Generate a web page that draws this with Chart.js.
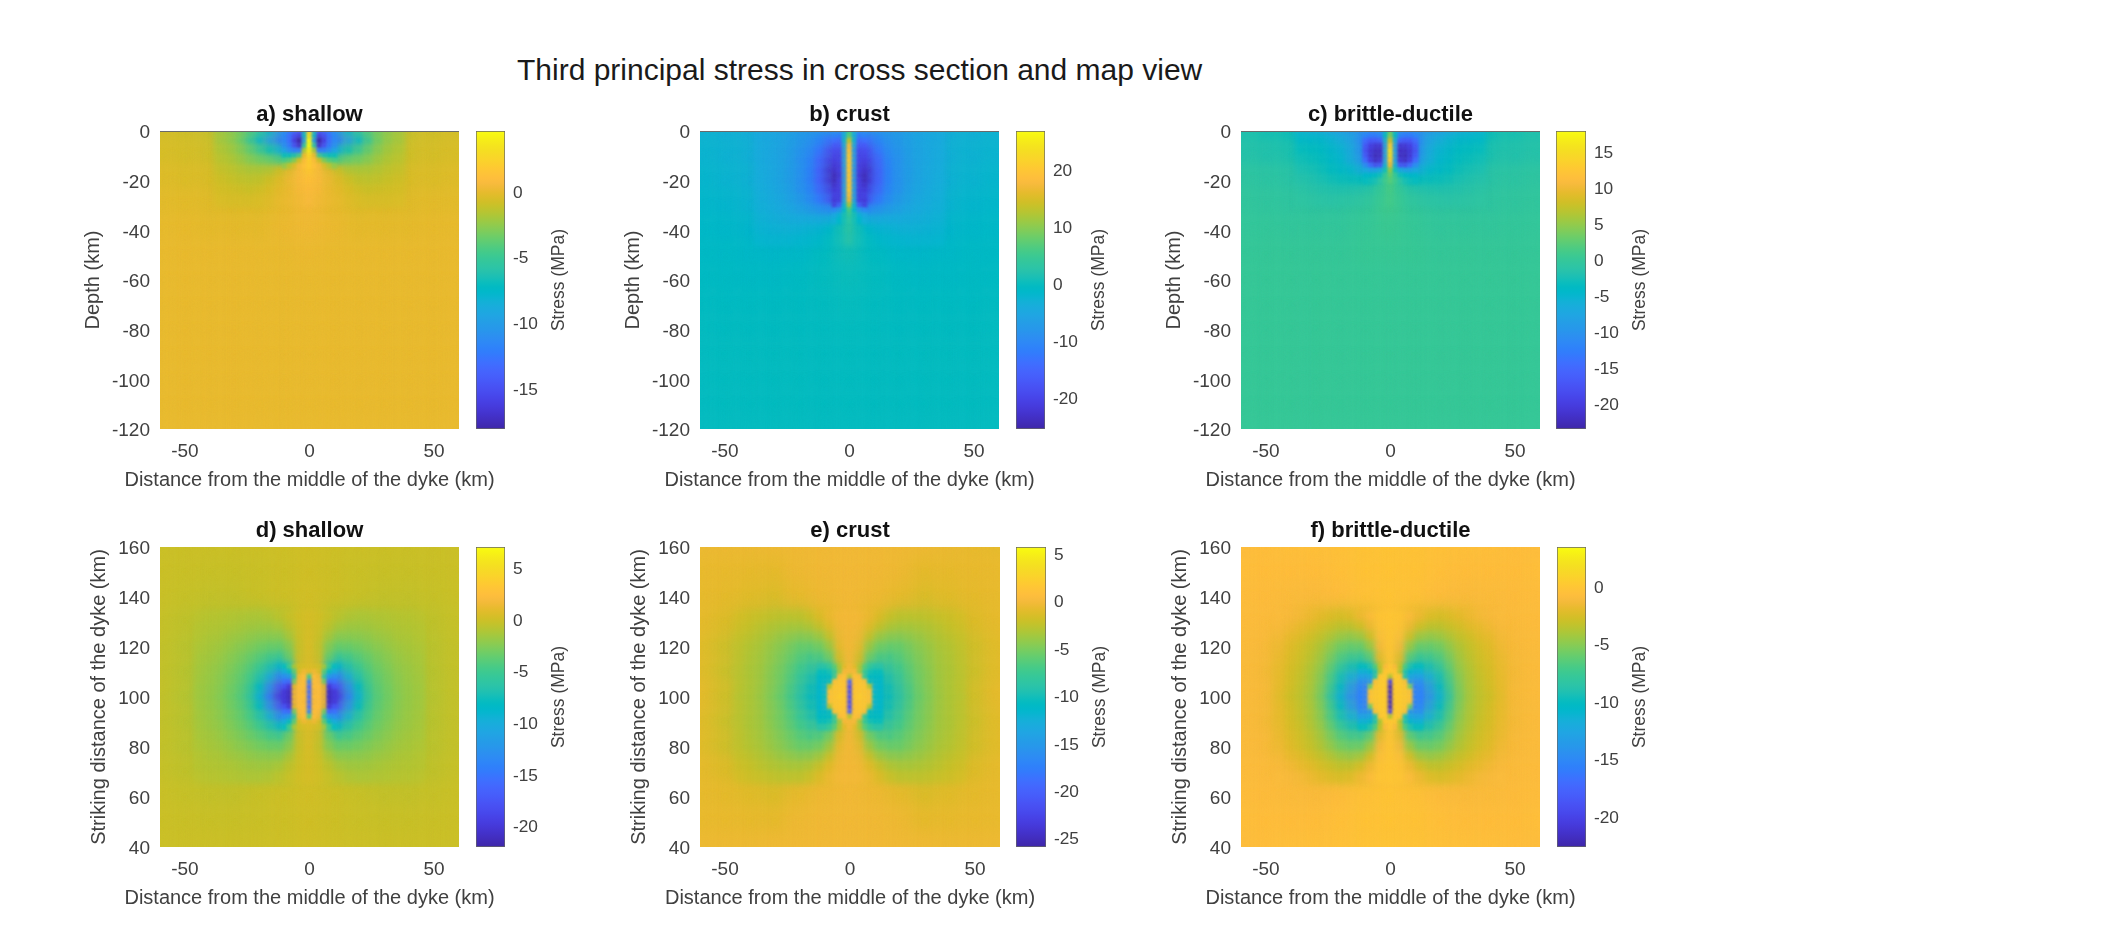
<!DOCTYPE html>
<html>
<head>
<meta charset="utf-8">
<title>Third principal stress</title>
<script src="https://cdn.jsdelivr.net/npm/chart.js@4"></script>
<style>
  html, body { margin: 0; background: #fff; }
  #page { position: relative; width: 2119px; height: 947px; overflow: hidden; }
  #page canvas { position: absolute; filter: blur(0.4px); }
  #suptitle { position: absolute; left: 517px; top: 52px; font: 30px/36px "Liberation Sans", Arial, sans-serif; color: #1a1a1a; white-space: nowrap; }
</style>
</head>
<body>
<div id="page"><div id="suptitle">Third principal stress in cross section and map view</div></div>
<script>
// grid nodes (km)
const coarseX = [-60,-50,-40,-30,-20,-10,0,10,20,30,40,50,60];
const sectionY = [0,-10,-20,-30,-40,-50,-60,-70,-80,-90,-100,-110,-120];
const mapY = [160,150,140,130,120,110,100,90,80,70,60,50,40];
const sectionMidX = [-36,-32,-28,-24,-20,-16,-12,-8,-4,0,4,8,12,16,20,24,28,32,36];
const mapMidX = [-44,-40,-36,-32,-28,-24,-20,-16,-12,-8,-4,0,4,8,12,16,20,24,28,32,36,40,44];
const shortMidY = [0,-4,-8,-12,-16,-20,-24,-28];
const crustMidY = [0,-4,-8,-12,-16,-20,-24,-28,-32,-36,-40,-44];
const mapMidY = [132,128,124,120,116,112,108,104,100,96,92,88,84,80,76,72,68];
const fineX10 = [-10,-8,-6,-4,-2,0,2,4,6,8,10];
const fineX12 = [-12,-10,-8,-6,-4,-2,0,2,4,6,8,10,12];
const fineX6 = [-6,-4,-2,0,2,4,6];
const aFineY = [0,-2,-4,-6,-8,-10,-12,-14];
const bFineY = [0,-2,-4,-6,-8,-10,-12,-14,-16,-18,-20,-22,-24,-26,-28,-30,-32,-34,-36];
const cFineY = [0,-2,-4,-6,-8,-10,-12,-14,-16,-18,-20];
const mapFineY = [112,110,108,106,104,102,100,98,96,94,92,90,88];

// stress (MPa), one row per y node
const aCoarse = [
  [-1,-1.1,-1.4,-2,-4,-9,0,-9,-4,-2,-1.4,-1.1,-1],
  [-0.8,-0.9,-1.1,-1.5,-3,-7,1.5,-7,-3,-1.5,-1.1,-0.9,-0.8],
  [-0.5,-0.6,-0.7,-0.9,-1.2,-0.8,1,-0.8,-1.2,-0.9,-0.7,-0.6,-0.5],
  [-0.3,-0.3,-0.4,-0.5,-0.5,-0.1,0.5,-0.1,-0.5,-0.5,-0.4,-0.3,-0.3],
  [-0.1,-0.1,-0.2,-0.2,-0.2,0.1,0.3,0.1,-0.2,-0.2,-0.2,-0.1,-0.1],
  [0,0,0,0,0,0,0.1,0,0,0,0,0,0],
  [0,0,0,0,0,0,0,0,0,0,0,0,0],
  [0,0,0,0,0,0,0,0,0,0,0,0,0],
  [0,0,0,0,0,0,0,0,0,0,0,0,0],
  [0,0,0,0,0,0,0,0,0,0,0,0,0],
  [0,0,0,0,0,0,0,0,0,0,0,0,0],
  [0,0,0,0,0,0,0,0,0,0,0,0,0],
  [0,0,0,0,0,0,0,0,0,0,0,0,0]
];
const aMid = [
  [-2.3,-2.8,-3.5,-4.5,-6,-8,-10.5,-12,-13.5,3,-13.5,-12,-10.5,-8,-6,-4.5,-3.5,-2.8,-2.3],
  [-2.2,-2.7,-3.6,-5.4,-8,-10,-12,-13.5,-17,4,-17,-13.5,-12,-10,-8,-5.4,-3.6,-2.7,-2.2],
  [-1.9,-2.3,-3,-4,-5.5,-7,-8.5,-11,-13,4,-13,-11,-8.5,-7,-5.5,-4,-3,-2.3,-1.9],
  [-1.6,-1.9,-2.4,-3,-3.5,-3.8,-4.3,-4,-0.8,2,-0.8,-4,-4.3,-3.8,-3.5,-3,-2.4,-1.9,-1.6],
  [-1.3,-1.5,-1.8,-2,-2,-1.8,-1,-0.1,0.8,1.7,0.8,-0.1,-1,-1.8,-2,-2,-1.8,-1.5,-1.3],
  [-1,-1.2,-1.4,-1.5,-1.4,-1,-0.4,0.2,0.7,1.2,0.7,0.2,-0.4,-1,-1.4,-1.5,-1.4,-1.2,-1],
  [-0.8,-0.9,-1,-1.1,-0.9,-0.6,-0.2,0.1,0.5,0.8,0.5,0.1,-0.2,-0.6,-0.9,-1.1,-1,-0.9,-0.8],
  [-0.6,-0.7,-0.7,-0.7,-0.6,-0.4,-0.1,0.1,0.3,0.6,0.3,0.1,-0.1,-0.4,-0.6,-0.7,-0.7,-0.7,-0.6]
];
const aFine = [
  [-11,-12,-13,-14,-8,1.5,-8,-14,-13,-12,-11],
  [-11.5,-13,-15,-16,-8,3,-8,-16,-15,-13,-11.5],
  [-11.5,-13,-16,-18,-10,4.5,-10,-18,-16,-13,-11.5],
  [-11,-12.5,-15,-17,-6,4.5,-6,-17,-15,-12.5,-11],
  [-9.5,-11,-12,-12,-2,3.5,-2,-12,-12,-11,-9.5],
  [-7,-7,-6.5,-5,0,2.5,0,-5,-6.5,-7,-7],
  [-4.5,-4,-3,-1,0.8,2,0.8,-1,-3,-4,-4.5],
  [-2.5,-1.5,-0.5,0.5,1.2,1.8,1.2,0.5,-0.5,-1.5,-2.5]
];

const bCoarse = [
  [-3.5,-4,-4.5,-6,-7.5,-9,0,-9,-7.5,-6,-4.5,-4,-3.5],
  [-3,-3.4,-4,-5.5,-8,-15,12,-15,-8,-5.5,-4,-3.4,-3],
  [-2.5,-3,-3.6,-5,-8,-17,14,-17,-8,-5,-3.6,-3,-2.5],
  [-2,-2.4,-3,-4,-6,-12,6,-12,-6,-4,-3,-2.4,-2],
  [-1.5,-1.8,-2.2,-2.7,-3,-2.5,2,-2.5,-3,-2.7,-2.2,-1.8,-1.5],
  [-1,-1.2,-1.4,-1.6,-1.5,-0.5,1,-0.5,-1.5,-1.6,-1.4,-1.2,-1],
  [-0.8,-0.9,-1,-1,-0.8,-0.2,0.3,-0.2,-0.8,-1,-1,-0.9,-0.8],
  [-0.5,-0.6,-0.6,-0.6,-0.5,-0.3,0,-0.3,-0.5,-0.6,-0.6,-0.6,-0.5],
  [-0.3,-0.4,-0.4,-0.4,-0.4,-0.3,-0.2,-0.3,-0.4,-0.4,-0.4,-0.4,-0.3],
  [-0.3,-0.3,-0.3,-0.3,-0.3,-0.3,-0.3,-0.3,-0.3,-0.3,-0.3,-0.3,-0.3],
  [-0.3,-0.3,-0.3,-0.3,-0.3,-0.3,-0.3,-0.3,-0.3,-0.3,-0.3,-0.3,-0.3],
  [-0.3,-0.3,-0.3,-0.3,-0.3,-0.3,-0.3,-0.3,-0.3,-0.3,-0.3,-0.3,-0.3],
  [-0.3,-0.3,-0.3,-0.3,-0.3,-0.3,-0.3,-0.3,-0.3,-0.3,-0.3,-0.3,-0.3]
];
const bMid = [
  [-4.8,-5.2,-5.7,-6.5,-7.5,-8,-8.5,-9,-8,2,-8,-9,-8.5,-8,-7.5,-6.5,-5.7,-5.2,-4.8],
  [-4.8,-5.2,-5.8,-6.7,-8,-9,-11,-14,-15,10,-15,-14,-11,-9,-8,-6.7,-5.8,-5.2,-4.8],
  [-4.7,-5.2,-5.9,-7,-8.5,-10,-13,-18,-20,16,-20,-18,-13,-10,-8.5,-7,-5.9,-5.2,-4.7],
  [-4.6,-5.2,-6,-7.2,-9,-11,-15,-20,-21,18,-21,-20,-15,-11,-9,-7.2,-6,-5.2,-4.6],
  [-4.5,-5.1,-6,-7.4,-9,-11.5,-16,-22,-22,18,-22,-22,-16,-11.5,-9,-7.4,-6,-5.1,-4.5],
  [-4.3,-5,-5.9,-7.3,-9,-11.5,-16,-22,-22,18,-22,-22,-16,-11.5,-9,-7.3,-5.9,-5,-4.3],
  [-4.1,-4.8,-5.7,-7,-9,-11,-15,-20,-21,17,-21,-20,-15,-11,-9,-7,-5.7,-4.8,-4.1],
  [-3.9,-4.5,-5.3,-6.5,-8,-10,-13,-18,-20,14,-20,-18,-13,-10,-8,-6.5,-5.3,-4.5,-3.9],
  [-3.6,-4.1,-4.7,-5.4,-6.5,-7.5,-8.5,-10,-8,5,-8,-10,-8.5,-7.5,-6.5,-5.4,-4.7,-4.1,-3.6],
  [-3.2,-3.6,-4,-4.4,-4.5,-4.5,-4.5,-4.2,-2,3.5,-2,-4.2,-4.5,-4.5,-4.5,-4.4,-4,-3.6,-3.2],
  [-2.8,-3,-3.2,-3.3,-3.1,-2.8,-2.5,-1.5,0.5,3,0.5,-1.5,-2.5,-2.8,-3.1,-3.3,-3.2,-3,-2.8],
  [-2.3,-2.5,-2.5,-2.4,-2.2,-1.9,-1.4,-0.5,0.7,2.5,0.7,-0.5,-1.4,-1.9,-2.2,-2.4,-2.5,-2.5,-2.3]
];
const bFine = [
  [-9,-9,-5,5,-5,-9,-9],
  [-11,-12,-4,7,-4,-12,-11],
  [-14,-15,-3,14,-3,-15,-14],
  [-17,-17,-5,18,-5,-17,-17],
  [-19,-19,-7,19,-7,-19,-19],
  [-20,-20,-7,20,-7,-20,-20],
  [-21,-20,-7,20,-7,-20,-21],
  [-22,-21,-7,20,-7,-21,-22],
  [-23,-21,-8,20,-8,-21,-23],
  [-24,-22,-8,20,-8,-22,-24],
  [-24,-21,-8,20,-8,-21,-24],
  [-23,-21,-7,20,-7,-21,-23],
  [-22,-21,-7,20,-7,-21,-22],
  [-21,-21,-7,19,-7,-21,-21],
  [-22,-21,-6,17,-6,-21,-22],
  [-21,-17,-3,12,-3,-17,-21],
  [-10,-8,-2,6,-2,-8,-10],
  [-5,-3,1,4,1,-3,-5],
  [-3.5,-1.5,1,3,1,-1.5,-3.5]
];

const cCoarse = [
  [-2.5,-3,-4,-5.5,-8,-10,-1,-10,-8,-5.5,-4,-3,-2.5],
  [-2,-2.2,-2.6,-3.5,-5,-13,8,-13,-5,-3.5,-2.6,-2.2,-2],
  [-1,-1.2,-1.5,-2,-3,-4,1.5,-4,-3,-2,-1.5,-1.2,-1],
  [-0.6,-0.7,-0.9,-1,-1,-0.5,1,-0.5,-1,-1,-0.9,-0.7,-0.6],
  [-0.3,-0.3,-0.4,-0.4,-0.4,0,0.5,0,-0.4,-0.4,-0.4,-0.3,-0.3],
  [-0.1,-0.1,-0.1,-0.1,-0.1,0.1,0.2,0.1,-0.1,-0.1,-0.1,-0.1,-0.1],
  [0,0,0,0,0,0,0,0,0,0,0,0,0],
  [0,0,0,0,0,0,0,0,0,0,0,0,0],
  [0,0,0,0,0,0,0,0,0,0,0,0,0],
  [0,0,0,0,0,0,0,0,0,0,0,0,0],
  [0,0,0,0,0,0,0,0,0,0,0,0,0],
  [0,0,0,0,0,0,0,0,0,0,0,0,0],
  [0,0,0,0,0,0,0,0,0,0,0,0,0]
];
const cMid = [
  [-5.5,-6,-6.5,-7.5,-8.5,-9.5,-10.5,-11,-10,-1,-10,-11,-10.5,-9.5,-8.5,-7.5,-6.5,-6,-5.5],
  [-4.5,-4.7,-4.8,-5.5,-6.5,-8,-11,-16,-17,8,-17,-16,-11,-8,-6.5,-5.5,-4.8,-4.7,-4.5],
  [-3.6,-3.8,-4.1,-4.8,-5.5,-7,-10,-18,-20,12,-20,-18,-10,-7,-5.5,-4.8,-4.1,-3.8,-3.6],
  [-2.9,-3.2,-3.6,-4.4,-5,-6.5,-9,-17,-20,12,-20,-17,-9,-6.5,-5,-4.4,-3.6,-3.2,-2.9],
  [-2.3,-2.6,-3.1,-3.9,-4.5,-5,-6.5,-8,-7,3,-7,-8,-6.5,-5,-4.5,-3.9,-3.1,-2.6,-2.3],
  [-1.7,-2,-2.4,-2.9,-3.2,-3.4,-3.5,-3.5,-1.5,1.5,-1.5,-3.5,-3.5,-3.4,-3.2,-2.9,-2.4,-2,-1.7],
  [-1.2,-1.4,-1.7,-1.9,-2,-1.9,-1.6,-1.2,-0.2,1.2,-0.2,-1.2,-1.6,-1.9,-2,-1.9,-1.7,-1.4,-1.2],
  [-0.9,-1,-1.2,-1.3,-1.2,-1.1,-0.8,-0.5,0.2,1,0.2,-0.5,-0.8,-1.1,-1.2,-1.3,-1.2,-1,-0.9]
];
const cFine = [
  [-10,-10.5,-10.5,-10,-5,3,-5,-10,-10.5,-10.5,-10],
  [-12,-13,-13,-12,-4,4,-4,-12,-13,-13,-12],
  [-15,-17,-17,-16,-6,8,-6,-16,-17,-17,-15],
  [-17,-20,-21,-21,-8,13,-8,-21,-21,-20,-17],
  [-18,-21,-22,-22,-8,15,-8,-22,-22,-21,-18],
  [-17,-21,-22.5,-22,-8,15,-8,-22,-22.5,-21,-17],
  [-15,-20,-22,-21,-8,13,-8,-21,-22,-20,-15],
  [-11,-15,-18,-17,-6,10,-6,-17,-18,-15,-11],
  [-7,-8,-8,-7,-3,5,-3,-7,-8,-8,-7],
  [-4.5,-4.5,-4,-3,0,3,0,-3,-4,-4.5,-4.5],
  [-3.5,-3,-2.5,-1,0.8,2,0.8,-1,-2.5,-3,-3.5]
];

const dCoarse = [
  [-0.15,-0.15,-0.15,-0.15,-0.1,0,0.1,0,-0.1,-0.15,-0.15,-0.15,-0.15],
  [-0.15,-0.2,-0.3,-0.3,-0.2,-0.05,0.1,-0.05,-0.2,-0.3,-0.3,-0.2,-0.15],
  [-0.25,-0.35,-0.5,-0.5,-0.3,-0.05,0.2,-0.05,-0.3,-0.5,-0.5,-0.35,-0.25],
  [-0.4,-0.7,-1,-1.2,-1.4,-0.9,0.3,-0.9,-1.4,-1.2,-1,-0.7,-0.4],
  [-0.5,-0.9,-1.4,-2.3,-2.9,-3.5,0.4,-3.5,-2.9,-2.3,-1.4,-0.9,-0.5],
  [-0.5,-1,-1.8,-3,-5.5,-10,0.5,-10,-5.5,-3,-1.8,-1,-0.5],
  [-0.5,-1.1,-2,-3.3,-8,-20,0.5,-20,-8,-3.3,-2,-1.1,-0.5],
  [-0.5,-1,-1.8,-3,-5.5,-10,0.5,-10,-5.5,-3,-1.8,-1,-0.5],
  [-0.5,-0.9,-1.4,-2.3,-2.9,-3.5,0.4,-3.5,-2.9,-2.3,-1.4,-0.9,-0.5],
  [-0.4,-0.7,-1,-1.2,-1.4,-0.9,0.3,-0.9,-1.4,-1.2,-1,-0.7,-0.4],
  [-0.25,-0.35,-0.5,-0.5,-0.3,-0.05,0.2,-0.05,-0.3,-0.5,-0.5,-0.35,-0.25],
  [-0.15,-0.2,-0.3,-0.3,-0.2,-0.05,0.1,-0.05,-0.2,-0.3,-0.3,-0.2,-0.15],
  [-0.15,-0.15,-0.15,-0.15,-0.1,0,0.1,0,-0.1,-0.15,-0.15,-0.15,-0.15]
];
const dMid = [
  [-0.8,-0.9,-1,-1.1,-1.2,-1.3,-1.3,-1.2,-0.8,-0.3,0.1,0.3,0.1,-0.3,-0.8,-1.2,-1.3,-1.3,-1.2,-1.1,-1,-0.9,-0.8],
  [-1,-1.1,-1.2,-1.3,-1.5,-1.7,-1.8,-1.8,-1.5,-0.7,0,0.3,0,-0.7,-1.5,-1.8,-1.8,-1.7,-1.5,-1.3,-1.2,-1.1,-1],
  [-1.1,-1.3,-1.4,-1.7,-1.9,-2.2,-2.4,-2.5,-2.4,-1.4,-0.1,0.4,-0.1,-1.4,-2.4,-2.5,-2.4,-2.2,-1.9,-1.7,-1.4,-1.3,-1.1],
  [-1.3,-1.5,-1.7,-2,-2.4,-2.8,-3.2,-3.6,-3.6,-2.5,-0.3,0.5,-0.3,-2.5,-3.6,-3.6,-3.2,-2.8,-2.4,-2,-1.7,-1.5,-1.3],
  [-1.5,-1.7,-2,-2.4,-2.9,-3.5,-4.2,-5,-5.5,-3.5,-0.1,0.5,-0.1,-3.5,-5.5,-5,-4.2,-3.5,-2.9,-2.4,-2,-1.7,-1.5],
  [-1.6,-1.9,-2.2,-2.7,-3.3,-4.1,-5.3,-7,-9,-6,0.3,0.6,0.3,-6,-9,-7,-5.3,-4.1,-3.3,-2.7,-2.2,-1.9,-1.6],
  [-1.7,-2,-2.4,-3,-3.7,-4.8,-6.8,-10,-13.5,-13,2,2,2,-13,-13.5,-10,-6.8,-4.8,-3.7,-3,-2.4,-2,-1.7],
  [-1.8,-2.1,-2.5,-3.2,-4,-5.4,-8.5,-13,-17,-19.5,2,2,2,-19.5,-17,-13,-8.5,-5.4,-4,-3.2,-2.5,-2.1,-1.8],
  [-1.8,-2.1,-2.6,-3.3,-4.2,-5.8,-9.5,-14.5,-19,-21,2,2,2,-21,-19,-14.5,-9.5,-5.8,-4.2,-3.3,-2.6,-2.1,-1.8],
  [-1.8,-2.1,-2.5,-3.2,-4,-5.4,-8.5,-13,-17,-19.5,2,2,2,-19.5,-17,-13,-8.5,-5.4,-4,-3.2,-2.5,-2.1,-1.8],
  [-1.7,-2,-2.4,-3,-3.7,-4.8,-6.8,-10,-13.5,-13,2,2,2,-13,-13.5,-10,-6.8,-4.8,-3.7,-3,-2.4,-2,-1.7],
  [-1.6,-1.9,-2.2,-2.7,-3.3,-4.1,-5.3,-7,-9,-6,0.3,0.6,0.3,-6,-9,-7,-5.3,-4.1,-3.3,-2.7,-2.2,-1.9,-1.6],
  [-1.5,-1.7,-2,-2.4,-2.9,-3.5,-4.2,-5,-5.5,-3.5,-0.1,0.5,-0.1,-3.5,-5.5,-5,-4.2,-3.5,-2.9,-2.4,-2,-1.7,-1.5],
  [-1.3,-1.5,-1.7,-2,-2.4,-2.8,-3.2,-3.6,-3.6,-2.5,-0.3,0.5,-0.3,-2.5,-3.6,-3.6,-3.2,-2.8,-2.4,-2,-1.7,-1.5,-1.3],
  [-1.1,-1.3,-1.4,-1.7,-1.9,-2.2,-2.4,-2.5,-2.4,-1.4,-0.1,0.4,-0.1,-1.4,-2.4,-2.5,-2.4,-2.2,-1.9,-1.7,-1.4,-1.3,-1.1],
  [-1,-1.1,-1.2,-1.3,-1.5,-1.7,-1.8,-1.8,-1.5,-0.7,0,0.3,0,-0.7,-1.5,-1.8,-1.8,-1.7,-1.5,-1.3,-1.2,-1.1,-1],
  [-0.8,-0.9,-1,-1.1,-1.2,-1.3,-1.3,-1.2,-0.8,-0.3,0.1,0.3,0.1,-0.3,-0.8,-1.2,-1.3,-1.3,-1.2,-1.1,-1,-0.9,-0.8]
];
const dFine = [
  [-8,-5,-1.5,0,0.3,0.5,0.3,0,-1.5,-5,-8],
  [-10,-8,-4,0.5,1.5,1,1.5,0.5,-4,-8,-10],
  [-13,-12,-6,1.5,2.5,-5,2.5,1.5,-6,-12,-13],
  [-15.5,-16,-3,2,2.5,-14,2.5,2,-3,-16,-15.5],
  [-18,-20,1,2.5,2.5,-16,2.5,2.5,1,-20,-18],
  [-20,-21,1.5,2.5,2,-16,2,2.5,1.5,-21,-20],
  [-20,-21,1.5,2.5,2.5,-16,2.5,2.5,1.5,-21,-20],
  [-20,-21,1.5,2.5,2,-16,2,2.5,1.5,-21,-20],
  [-18,-20,1,2.5,2.5,-16,2.5,2.5,1,-20,-18],
  [-15.5,-16,-3,2,2.5,-14,2.5,2,-3,-16,-15.5],
  [-13,-12,-6,1.5,2.5,-5,2.5,1.5,-6,-12,-13],
  [-10,-8,-4,0.5,1.5,1,1.5,0.5,-4,-8,-10],
  [-8,-5,-1.5,0,0.3,0.5,0.3,0,-1.5,-5,-8]
];

const eCoarse = [
  [-0.5,-0.5,-0.5,-0.4,-0.3,-0.2,-0.1,-0.2,-0.3,-0.4,-0.6,-0.8,-1],
  [-0.8,-0.8,-0.9,-1,-0.4,-0.2,-0.1,-0.2,-0.4,-1,-0.9,-0.8,-0.8],
  [-0.9,-1,-1.3,-1.6,-0.9,-0.4,-0.1,-0.4,-0.9,-1.6,-1.3,-1,-0.9],
  [-1,-1.5,-2.3,-3,-2.9,-1.1,-0.1,-1.1,-2.9,-3,-2.3,-1.5,-1],
  [-1.3,-2.2,-3.6,-5,-6,-5.5,-0.1,-5.5,-6,-5,-3.6,-2.2,-1.3],
  [-1.3,-2.4,-3.8,-5.3,-7.5,-9,0,-9,-7.5,-5.3,-3.8,-2.4,-1.3],
  [-1,-2.2,-3.4,-5.2,-9,-11.5,0,-11.5,-9,-5.2,-3.4,-2.2,-1],
  [-1.3,-2.4,-3.8,-5.3,-7.5,-9,0,-9,-7.5,-5.3,-3.8,-2.4,-1.3],
  [-1.3,-2.2,-3.6,-5,-6,-5.5,-0.1,-5.5,-6,-5,-3.6,-2.2,-1.3],
  [-1,-1.5,-2.3,-3,-2.9,-1.1,-0.1,-1.1,-2.9,-3,-2.3,-1.5,-1],
  [-0.9,-1,-1.3,-1.6,-0.9,-0.4,-0.1,-0.4,-0.9,-1.6,-1.3,-1,-0.9],
  [-0.8,-0.8,-0.9,-1,-0.4,-0.2,-0.1,-0.2,-0.4,-1,-0.9,-0.8,-0.8],
  [-0.5,-0.5,-0.5,-0.4,-0.3,-0.2,-0.1,-0.2,-0.3,-0.4,-0.5,-0.5,-0.5]
];
const eMid = [
  [-1.8,-2.1,-2.3,-2.5,-2.7,-2.8,-2.7,-2.3,-1.5,-0.6,-0.1,-0.1,-0.1,-0.6,-1.5,-2.3,-2.7,-2.8,-2.7,-2.5,-2.3,-2.1,-1.8],
  [-2.1,-2.4,-2.8,-3.1,-3.4,-3.6,-3.6,-3.3,-2.5,-1.2,-0.2,-0.1,-0.2,-1.2,-2.5,-3.3,-3.6,-3.6,-3.4,-3.1,-2.8,-2.4,-2.1],
  [-2.4,-2.7,-3.1,-3.5,-4,-4.4,-4.7,-4.6,-3.9,-2.2,-0.4,-0.1,-0.4,-2.2,-3.9,-4.6,-4.7,-4.4,-4,-3.5,-3.1,-2.7,-2.4],
  [-2.6,-3,-3.4,-3.9,-4.5,-5.2,-5.8,-6,-5.5,-3.8,-0.8,-0.1,-0.8,-3.8,-5.5,-6,-5.8,-5.2,-4.5,-3.9,-3.4,-3,-2.6],
  [-2.7,-3.2,-3.6,-4.2,-4.9,-5.7,-6.6,-7.3,-7,-5.5,-1.6,-0.1,-1.6,-5.5,-7,-7.3,-6.6,-5.7,-4.9,-4.2,-3.6,-3.2,-2.7],
  [-2.8,-3.3,-3.7,-4.4,-5.2,-6.2,-7.4,-8.6,-9,-8,-2.5,-0.1,-2.5,-8,-9,-8.6,-7.4,-6.2,-5.2,-4.4,-3.7,-3.3,-2.8],
  [-2.9,-3.3,-3.8,-4.6,-5.4,-6.6,-8.2,-9.8,-10.8,-10,0.8,0,0.8,-10,-10.8,-9.8,-8.2,-6.6,-5.4,-4.6,-3.8,-3.3,-2.9],
  [-2.9,-3.4,-3.9,-4.7,-5.6,-7,-8.8,-10.5,-11.3,1,1.2,0.5,1.2,1,-11.3,-10.5,-8.8,-7,-5.6,-4.7,-3.9,-3.4,-2.9],
  [-3,-3.4,-4,-4.8,-5.8,-7.2,-9,-10.8,-11.5,1,1.2,0.5,1.2,1,-11.5,-10.8,-9,-7.2,-5.8,-4.8,-4,-3.4,-3],
  [-2.9,-3.4,-3.9,-4.7,-5.6,-7,-8.8,-10.5,-11.3,1,1.2,0.5,1.2,1,-11.3,-10.5,-8.8,-7,-5.6,-4.7,-3.9,-3.4,-2.9],
  [-2.9,-3.3,-3.8,-4.6,-5.4,-6.6,-8.2,-9.8,-10.8,-10,0.8,0,0.8,-10,-10.8,-9.8,-8.2,-6.6,-5.4,-4.6,-3.8,-3.3,-2.9],
  [-2.8,-3.3,-3.7,-4.4,-5.2,-6.2,-7.4,-8.6,-9,-8,-2.5,-0.1,-2.5,-8,-9,-8.6,-7.4,-6.2,-5.2,-4.4,-3.7,-3.3,-2.8],
  [-2.7,-3.2,-3.6,-4.2,-4.9,-5.7,-6.6,-7.3,-7,-5.5,-1.6,-0.1,-1.6,-5.5,-7,-7.3,-6.6,-5.7,-4.9,-4.2,-3.6,-3.2,-2.7],
  [-2.6,-3,-3.4,-3.9,-4.5,-5.2,-5.8,-6,-5.5,-3.8,-0.8,-0.1,-0.8,-3.8,-5.5,-6,-5.8,-5.2,-4.5,-3.9,-3.4,-3,-2.6],
  [-2.4,-2.7,-3.1,-3.5,-4,-4.4,-4.7,-4.6,-3.9,-2.2,-0.4,-0.1,-0.4,-2.2,-3.9,-4.6,-4.7,-4.4,-4,-3.5,-3.1,-2.7,-2.4],
  [-2.1,-2.4,-2.8,-3.1,-3.4,-3.6,-3.6,-3.3,-2.5,-1.2,-0.2,-0.1,-0.2,-1.2,-2.5,-3.3,-3.6,-3.6,-3.4,-3.1,-2.8,-2.4,-2.1],
  [-1.8,-2.1,-2.3,-2.5,-2.7,-2.8,-2.7,-2.3,-1.5,-0.6,-0.1,-0.1,-0.1,-0.6,-1.5,-2.3,-2.7,-2.8,-2.7,-2.5,-2.3,-2.1,-1.8]
];
const eFine = [
  [-9,-9,-8,-6.5,-3.5,-1,-0.1,-1,-3.5,-6.5,-8,-9,-9],
  [-10.5,-10.5,-10,-8,-4,0,0,0,-4,-8,-10,-10.5,-10.5],
  [-11,-11,-11,-8,0.5,1,-3,1,0.5,-8,-11,-11,-11],
  [-11.5,-11.5,-11,1,1.5,1,-20,1,1.5,1,-11,-11.5,-11.5],
  [-11.5,-12,-3,1.5,1.5,1.2,-22,1.2,1.5,1.5,-3,-12,-11.5],
  [-11.5,-12,1,1.5,1.5,1.5,-22,1.5,1.5,1.5,1,-12,-11.5],
  [-11.5,-11,1,1.5,2,1.5,-22,1.5,2,1.5,1,-11,-11.5],
  [-11.5,-12,1,1.5,1.5,1.5,-22,1.5,1.5,1.5,1,-12,-11.5],
  [-11.5,-12,-3,1.5,1.5,1.2,-22,1.2,1.5,1.5,-3,-12,-11.5],
  [-11.5,-11.5,-11,1,1.5,1,-20,1,1.5,1,-11,-11.5,-11.5],
  [-11,-11,-11,-8,0.5,1,-3,1,0.5,-8,-11,-11,-11],
  [-10.5,-10.5,-10,-8,-4,0,0,0,-4,-8,-10,-10.5,-10.5],
  [-9,-9,-8,-6.5,-3.5,-1,-0.1,-1,-3.5,-6.5,-8,-9,-9]
];

const fCoarse = [
  [-0.8,-0.7,-0.6,-0.5,-0.4,-0.2,-0.1,-0.2,-0.4,-0.5,-0.6,-0.7,-0.8],
  [-0.6,-0.7,-0.7,-0.7,-0.5,-0.2,-0.1,-0.2,-0.5,-0.7,-0.7,-0.7,-0.6],
  [-0.8,-0.9,-1,-1.1,-0.8,-0.3,-0.1,-0.3,-0.8,-1.1,-1,-0.9,-0.8],
  [-0.9,-1,-1.2,-2.2,-3,-2.2,-0.1,-2.2,-3,-2.2,-1.2,-1,-0.9],
  [-1,-1.2,-2.5,-3.9,-5.9,-6.1,-0.2,-6.1,-5.9,-3.9,-2.5,-1.2,-1],
  [-1,-1.4,-2.8,-4.5,-9,-10.5,-0.2,-10.5,-9,-4.5,-2.8,-1.4,-1],
  [-1,-1.3,-3,-4.9,-11.3,-15.5,-0.2,-15.5,-11.3,-4.9,-3,-1.3,-1],
  [-1,-1.4,-2.8,-4.5,-9,-10.5,-0.2,-10.5,-9,-4.5,-2.8,-1.4,-1],
  [-1,-1.2,-2.5,-3.9,-5.9,-6.1,-0.2,-6.1,-5.9,-3.9,-2.5,-1.2,-1],
  [-0.9,-1,-1.2,-2.2,-3,-2.2,-0.1,-2.2,-3,-2.2,-1.2,-1,-0.9],
  [-0.8,-0.9,-1,-1.1,-0.8,-0.3,-0.1,-0.3,-0.8,-1.1,-1,-0.9,-0.8],
  [-0.6,-0.7,-0.7,-0.7,-0.5,-0.2,-0.1,-0.2,-0.5,-0.7,-0.7,-0.7,-0.6],
  [-0.8,-0.7,-0.6,-0.5,-0.4,-0.2,-0.1,-0.2,-0.4,-0.5,-0.6,-0.7,-0.8]
];
const fMid = [
  [-1,-1.2,-1.4,-1.7,-2.1,-2.4,-2.6,-2.4,-1.7,-0.8,-0.2,-0.1,-0.2,-0.8,-1.7,-2.4,-2.6,-2.4,-2.1,-1.7,-1.4,-1.2,-1],
  [-1.2,-1.5,-1.9,-2.2,-2.7,-3.1,-3.5,-3.5,-2.9,-1.6,-0.3,-0.1,-0.3,-1.6,-2.9,-3.5,-3.5,-3.1,-2.7,-2.2,-1.9,-1.5,-1.2],
  [-1.4,-1.9,-2.3,-2.8,-3.3,-3.9,-4.5,-4.8,-4.4,-2.8,-0.6,-0.1,-0.6,-2.8,-4.4,-4.8,-4.5,-3.9,-3.3,-2.8,-2.3,-1.9,-1.4],
  [-1.6,-2.2,-2.7,-3.2,-3.9,-4.8,-5.7,-6.2,-6.1,-4.5,-1.2,-0.1,-1.2,-4.5,-6.1,-6.2,-5.7,-4.8,-3.9,-3.2,-2.7,-2.2,-1.6],
  [-1.8,-2.4,-2.9,-3.5,-4.3,-5.5,-6.8,-7.6,-7.8,-6.5,-2,-0.1,-2,-6.5,-7.8,-7.6,-6.8,-5.5,-4.3,-3.5,-2.9,-2.4,-1.8],
  [-1.9,-2.6,-3.1,-3.8,-4.7,-6.2,-8,-9.5,-10,-9,-3,-0.1,-3,-9,-10,-9.5,-8,-6.2,-4.7,-3.8,-3.1,-2.6,-1.9],
  [-2,-2.7,-3.3,-4,-5.1,-7,-9.5,-11.8,-12.6,-12,0,0,0,-12,-12.6,-11.8,-9.5,-7,-5.1,-4,-3.3,-2.7,-2],
  [-2.1,-2.8,-3.4,-4.1,-5.4,-7.6,-10.5,-13.4,-15,-0.3,0,0.3,0,-0.3,-15,-13.4,-10.5,-7.6,-5.4,-4.1,-3.4,-2.8,-2.1],
  [-2.2,-3,-3.5,-4.2,-5.6,-8.2,-11.3,-14.3,-15.5,-0.2,0,0.3,0,-0.2,-15.5,-14.3,-11.3,-8.2,-5.6,-4.2,-3.5,-3,-2.2],
  [-2.1,-2.8,-3.4,-4.1,-5.4,-7.6,-10.5,-13.4,-15,-0.3,0,0.3,0,-0.3,-15,-13.4,-10.5,-7.6,-5.4,-4.1,-3.4,-2.8,-2.1],
  [-2,-2.7,-3.3,-4,-5.1,-7,-9.5,-11.8,-12.6,-12,0,0,0,-12,-12.6,-11.8,-9.5,-7,-5.1,-4,-3.3,-2.7,-2],
  [-1.9,-2.6,-3.1,-3.8,-4.7,-6.2,-8,-9.5,-10,-9,-3,-0.1,-3,-9,-10,-9.5,-8,-6.2,-4.7,-3.8,-3.1,-2.6,-1.9],
  [-1.8,-2.4,-2.9,-3.5,-4.3,-5.5,-6.8,-7.6,-7.8,-6.5,-2,-0.1,-2,-6.5,-7.8,-7.6,-6.8,-5.5,-4.3,-3.5,-2.9,-2.4,-1.8],
  [-1.6,-2.2,-2.7,-3.2,-3.9,-4.8,-5.7,-6.2,-6.1,-4.5,-1.2,-0.1,-1.2,-4.5,-6.1,-6.2,-5.7,-4.8,-3.9,-3.2,-2.7,-2.2,-1.6],
  [-1.4,-1.9,-2.3,-2.8,-3.3,-3.9,-4.5,-4.8,-4.4,-2.8,-0.6,-0.1,-0.6,-2.8,-4.4,-4.8,-4.5,-3.9,-3.3,-2.8,-2.3,-1.9,-1.4],
  [-1.2,-1.5,-1.9,-2.2,-2.7,-3.1,-3.5,-3.5,-2.9,-1.6,-0.3,-0.1,-0.3,-1.6,-2.9,-3.5,-3.5,-3.1,-2.7,-2.2,-1.9,-1.5,-1.2],
  [-1,-1.2,-1.4,-1.7,-2.1,-2.4,-2.6,-2.4,-1.7,-0.8,-0.2,-0.1,-0.2,-0.8,-1.7,-2.4,-2.6,-2.4,-2.1,-1.7,-1.4,-1.2,-1]
];
const fFine = [
  [-10,-10,-9,-7,-3.5,-1,-0.1,-1,-3.5,-7,-9,-10,-10],
  [-11.5,-11.5,-11,-9,-4,0,0,0,-4,-9,-11,-11.5,-11.5],
  [-13,-13,-12.5,-9,0,0.2,-4,0.2,0,-9,-12.5,-13,-13],
  [-14.5,-14.5,-14,-0.2,0.2,0.3,-20,0.3,0.2,-0.2,-14,-14.5,-14.5],
  [-15,-15.5,-6,0,0.3,0.3,-22,0.3,0.3,0,-6,-15.5,-15],
  [-15.5,-15.5,-0.3,0.2,0.3,0.3,-22,0.3,0.3,0.2,-0.3,-15.5,-15.5],
  [-15.5,-15.5,-0.2,0.2,0.3,0.3,-22,0.3,0.3,0.2,-0.2,-15.5,-15.5],
  [-15.5,-15.5,-0.3,0.2,0.3,0.3,-22,0.3,0.3,0.2,-0.3,-15.5,-15.5],
  [-15,-15.5,-6,0,0.3,0.3,-22,0.3,0.3,0,-6,-15.5,-15],
  [-14.5,-14.5,-14,-0.2,0.2,0.3,-20,0.3,0.2,-0.2,-14,-14.5,-14.5],
  [-13,-13,-12.5,-9,0,0.2,-4,0.2,0,-9,-12.5,-13,-13],
  [-11.5,-11.5,-11,-9,-4,0,0,0,-4,-9,-11,-11.5,-11.5],
  [-10,-10,-9,-7,-3.5,-1,-0.1,-1,-3.5,-7,-9,-10,-10]
];

// tick labels
const xTicks = [-50, 0, 50];
const sectionYTicks = [0,-20,-40,-60,-80,-100,-120];
const mapYTicks = [160,140,120,100,80,60,40];
const aBarTicks = [0,-5,-10,-15];
const bBarTicks = [20,10,0,-10,-20];
const cBarTicks = [15,10,5,0,-5,-10,-15,-20];
const dBarTicks = [5,0,-5,-10,-15,-20];
const eBarTicks = [5,0,-5,-10,-15,-20,-25];
const fBarTicks = [0,-5,-10,-15,-20];

// colour limits of each panel
const aRange = [-18.1, 4.56];
const bRange = [-25.5, 26.6];
const cRange = [-23.6, 17.8];
const dRange = [-22.1, 7];
const eRange = [-26, 5.67];
const fRange = [-22.7, 3.4];

// parula
const parula = [[.2422,.1504,.6603],[.2504,.165,.7076],[.2578,.1818,.7511],[.2647,.1978,.7952],[.2706,.2147,.8364],[.2751,.2342,.871],[.2783,.2559,.8991],[.2803,.2782,.9221],[.2813,.3006,.9414],[.281,.3228,.9579],[.2795,.3447,.9717],[.276,.3667,.9829],[.2699,.3892,.9906],[.2602,.4123,.9952],[.244,.4358,.9988],[.2206,.4603,.9973],[.1963,.4847,.9892],[.1834,.5074,.9798],[.1786,.5289,.9682],[.1764,.5499,.952],[.1687,.5703,.9359],[.154,.5902,.9218],[.146,.6091,.9079],[.138,.6276,.8973],[.1248,.6459,.8883],[.1113,.6635,.8763],[.0952,.6798,.8598],[.0689,.6948,.8394],[.0297,.7082,.8163],[.0036,.7203,.7917],[.0067,.7312,.766],[.0433,.7411,.7394],[.0964,.75,.712],[.1408,.7584,.6842],[.1717,.767,.6554],[.1938,.7758,.6251],[.2161,.7843,.5923],[.247,.7918,.5567],[.2906,.7973,.5188],[.3406,.8008,.4789],[.3909,.8029,.4354],[.4456,.8024,.3909],[.5044,.7993,.348],[.5616,.7942,.3045],[.6174,.7876,.2612],[.672,.7793,.2227],[.7242,.7698,.191],[.7738,.7598,.1646],[.8203,.7498,.1535],[.8634,.7406,.1596],[.9035,.733,.1774],[.9393,.7288,.21],[.9728,.7316,.2394],[.9956,.7434,.2371],[.997,.7659,.2199],[.9952,.7861,.199],[.9892,.8085,.1816],[.9786,.8303,.1658],[.9676,.8516,.1491],[.961,.8741,.1311],[.9597,.8988,.1149],[.9628,.9256,.097],[.9691,.9555,.0759],[.9769,.9839,.0805]];

function parulaAt(t) {
  const p = Math.min(1, Math.max(0, t)) * (parula.length - 1);
  const i = Math.min(parula.length - 2, Math.floor(p));
  const f = p - i;
  const c = [0, 1, 2].map(k => Math.round(255 * (parula[i][k] * (1 - f) + parula[i + 1][k] * f)));
  return `rgb(${c[0]},${c[1]},${c[2]})`;
}

const fontFamily = '"Liberation Sans", Arial, sans-serif';
const textColor = '#404040';
const page = document.getElementById('page');

function addCanvas(left, top, width, height) {
  const c = document.createElement('canvas');
  c.width = width; c.height = height;
  c.style.left = left + 'px'; c.style.top = top + 'px';
  c.style.width = width + 'px'; c.style.height = height + 'px';
  page.appendChild(c);
  return c;
}

function heatLayer(xs, ys, rows, range, step, blur, order) {
  const pts = [];
  ys.forEach((y, r) => xs.forEach((x, c) => pts.push({ x, y, v: rows[r][c] })));
  return {
    data: pts, order, blur, clip: 0,
    pointStyle: 'rect',
    pointBorderWidth: 0,
    pointRadius: ctx => {
      const s = ctx.chart.scales.x;
      return (Math.abs(s.getPixelForValue(step) - s.getPixelForValue(0)) + 0.5) / Math.SQRT2;
    },
    pointBackgroundColor: ctx => ctx.raw ? parulaAt((ctx.raw.v - range[0]) / (range[1] - range[0])) : '#000'
  };
}

// soft edges between grid cells, a base colour under the far field, x label wider than the axis
const softCells = {
  id: 'softCells',
  beforeDatasetsDraw(chart) {
    const a = chart.chartArea, ds = chart.data.datasets[chart.data.datasets.length - 1];
    chart.ctx.save();
    chart.ctx.fillStyle = ds.pointBackgroundColor({ raw: ds.data[ds.data.length - 1] });
    chart.ctx.fillRect(a.left, a.top, a.right - a.left, a.bottom - a.top);
    chart.ctx.restore();
  },
  beforeDatasetDraw(chart, args) { chart.ctx.filter = `blur(${chart.data.datasets[args.index].blur}px)`; },
  afterDatasetDraw(chart) { chart.ctx.filter = 'none'; },
  afterDraw(chart) {
    const ctx = chart.ctx, a = chart.chartArea;
    ctx.save();
    ctx.font = `20px ${fontFamily}`;
    ctx.fillStyle = textColor;
    ctx.textAlign = 'center';
    ctx.textBaseline = 'middle';
    ctx.fillText('Distance from the middle of the dyke (km)', (a.left + a.right) / 2, a.bottom + 51);
    ctx.restore();
  }
};

function heatPanel(p) {
  const margin = 100, titleH = 30, axisH = 62;
  const canvas = addCanvas(p.left - margin, p.top - titleH, p.w + 2 * margin, titleH + p.h + axisH);
  return new Chart(canvas, {
    type: 'scatter',
    plugins: [softCells],
    data: { datasets: [
      heatLayer(p.fineX, p.fineY, p.fine, p.range, 2, 1.6, 1),
      heatLayer(p.midX, p.midY, p.mid, p.range, 4, 3, 2),
      heatLayer(coarseX, p.y, p.coarse, p.range, 10, 9, 3)
    ] },
    options: {
      responsive: false, animation: false, events: [],
      layout: { padding: { left: margin - p.yAxisW, right: margin } },
      plugins: {
        legend: { display: false }, tooltip: { enabled: false },
        title: { display: true, fullSize: false, text: p.title, color: '#111',
          font: { family: fontFamily, size: 22, weight: 'bold', lineHeight: 1 },
          padding: { top: 3, bottom: 5 } }
      },
      scales: {
        x: {
          type: 'linear', min: -60, max: 60,
          afterBuildTicks: s => { s.ticks = xTicks.map(value => ({ value })); },
          afterFit: s => { s.height = axisH; },
          grid: { display: false, drawTicks: false }, border: { display: false },
          ticks: { color: textColor, padding: 11, maxRotation: 0, autoSkip: false, font: { family: fontFamily, size: 19 }, callback: v => String(v) }
        },
        y: {
          type: 'linear', min: p.yMin, max: p.yMax,
          afterBuildTicks: s => { s.ticks = p.yTicks.map(value => ({ value })); },
          afterFit: s => { s.width = p.yAxisW; },
          grid: { display: p.topLine, z: 1, drawTicks: false, color: c => c.tick && c.tick.value === p.yMax ? '#6a6a6a' : 'transparent' },
          border: { display: false },
          ticks: { color: textColor, padding: 10, labelOffset: 2, autoSkip: false, font: { family: fontFamily, size: 19 }, callback: v => String(v) },
          title: { display: true, text: p.yTitle, color: textColor, padding: 0, font: { family: fontFamily, size: 20 } }
        }
      }
    }
  });
}

const barTitle = {
  id: 'barTitle',
  afterDraw(chart) {
    const ctx = chart.ctx, a = chart.chartArea;
    ctx.save();
    ctx.translate(a.right + 54, (a.top + a.bottom) / 2);
    ctx.rotate(-Math.PI / 2);
    ctx.font = `17.5px ${fontFamily}`;
    ctx.fillStyle = textColor;
    ctx.textAlign = 'center';
    ctx.textBaseline = 'middle';
    ctx.fillText('Stress (MPa)', 0, 0);
    ctx.restore();
  }
};

function colorBar(p) {
  const pad = 20, axisW = 100;
  const canvas = addCanvas(p.barLeft, p.top - pad, p.barW + axisW, p.h + 2 * pad);
  return new Chart(canvas, {
    type: 'bar',
    plugins: [barTitle],
    data: {
      labels: ['stress'],
      datasets: [{
        data: [p.range],
        barPercentage: 1, categoryPercentage: 1,
        borderWidth: 1, borderColor: '#666', borderSkipped: false,
        backgroundColor: ctx => {
          const a = ctx.chart.chartArea;
          if (!a) return '#888';
          const g = ctx.chart.ctx.createLinearGradient(0, a.bottom, 0, a.top);
          parula.forEach((c, i) => g.addColorStop(i / (parula.length - 1), parulaAt(i / (parula.length - 1))));
          return g;
        }
      }]
    },
    options: {
      responsive: false, animation: false, events: [],
      layout: { padding: { top: pad, bottom: pad } },
      plugins: { legend: { display: false }, tooltip: { enabled: false } },
      scales: {
        x: { display: false },
        y: {
          type: 'linear', position: 'right', min: p.range[0], max: p.range[1],
          afterBuildTicks: s => { s.ticks = p.barTicks.map(value => ({ value })); },
          afterFit: s => { s.width = axisW; },
          grid: { display: false, drawTicks: false }, border: { display: false },
          ticks: { color: textColor, padding: 8, labelOffset: 2, autoSkip: false, font: { family: fontFamily, size: 17.3 }, callback: v => String(v) }
        }
      }
    }
  });
}

const sectionRow = { top: 131, h: 298, y: sectionY, yMin: -120, yMax: 0, yTicks: sectionYTicks, yTitle: 'Depth (km)', yAxisW: 79, topLine: true, midX: sectionMidX };
const mapRow = { top: 547, h: 300, y: mapY, yMin: 40, yMax: 160, yTicks: mapYTicks, yTitle: 'Striking distance of the dyke (km)', yAxisW: 73, topLine: false, midX: mapMidX, midY: mapMidY, fineY: mapFineY };

const panels = [
  { ...sectionRow, title: 'a) shallow', left: 160, w: 299, barLeft: 476, barW: 29, range: aRange, barTicks: aBarTicks, coarse: aCoarse, mid: aMid, midY: shortMidY, fine: aFine, fineX: fineX10, fineY: aFineY },
  { ...sectionRow, title: 'b) crust', left: 700, w: 299, barLeft: 1016, barW: 29, range: bRange, barTicks: bBarTicks, coarse: bCoarse, mid: bMid, midY: crustMidY, fine: bFine, fineX: fineX6, fineY: bFineY },
  { ...sectionRow, title: 'c) brittle-ductile', left: 1241, w: 299, barLeft: 1556, barW: 30, range: cRange, barTicks: cBarTicks, coarse: cCoarse, mid: cMid, midY: shortMidY, fine: cFine, fineX: fineX10, fineY: cFineY },
  { ...mapRow, title: 'd) shallow', left: 160, w: 299, barLeft: 476, barW: 29, range: dRange, barTicks: dBarTicks, coarse: dCoarse, mid: dMid, fine: dFine, fineX: fineX10 },
  { ...mapRow, title: 'e) crust', left: 700, w: 300, barLeft: 1016, barW: 30, range: eRange, barTicks: eBarTicks, coarse: eCoarse, mid: eMid, fine: eFine, fineX: fineX12 },
  { ...mapRow, title: 'f) brittle-ductile', left: 1241, w: 299, barLeft: 1557, barW: 29, range: fRange, barTicks: fBarTicks, coarse: fCoarse, mid: fMid, fine: fFine, fineX: fineX12 }
];

panels.forEach(p => { heatPanel(p); colorBar(p); });
</script>
</body>
</html>
